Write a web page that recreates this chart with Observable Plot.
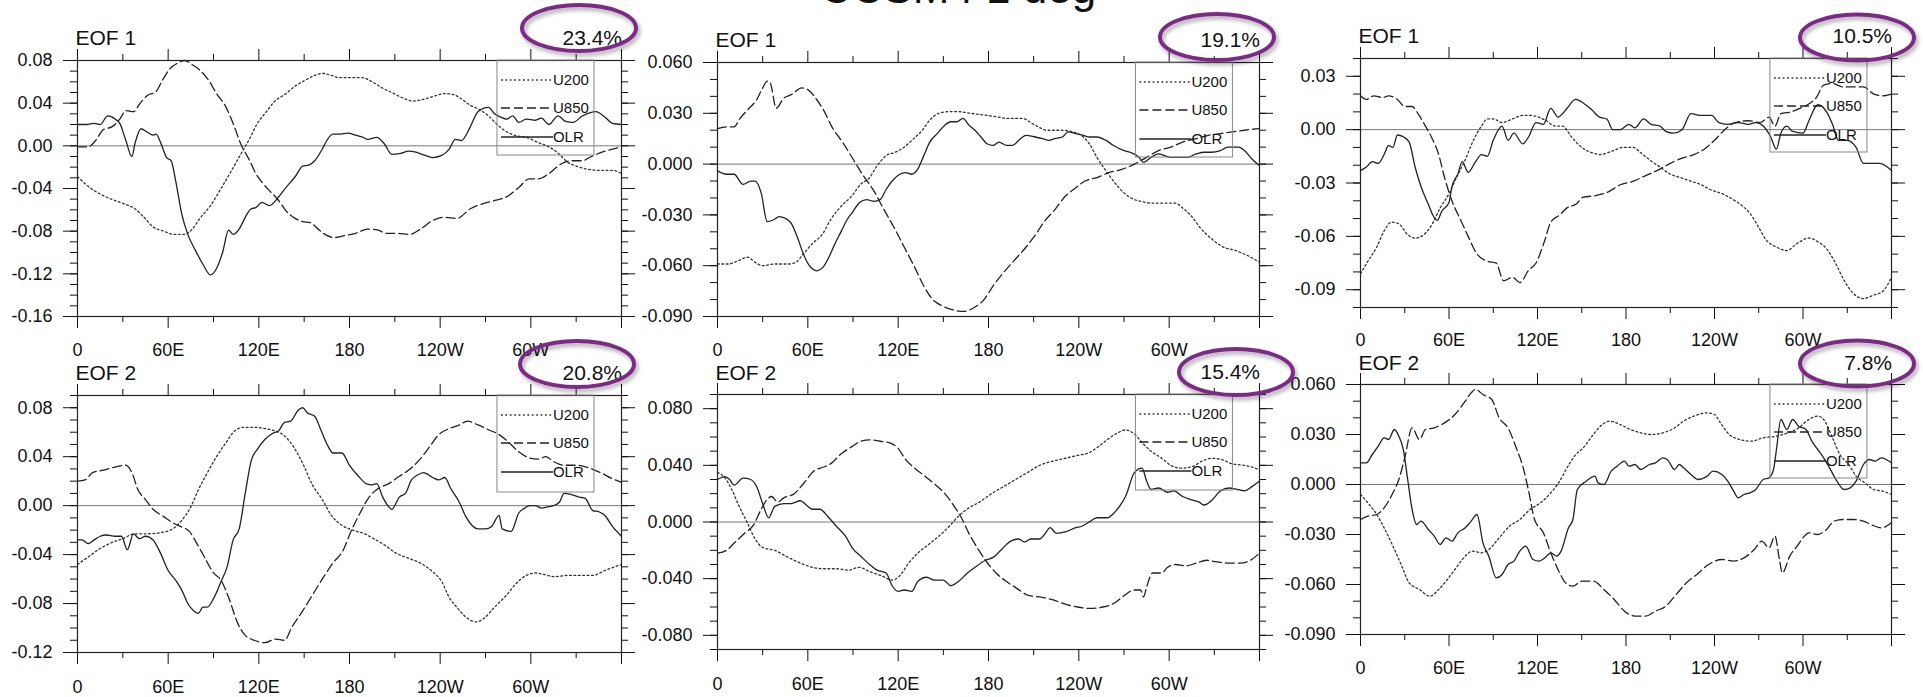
<!DOCTYPE html>
<html><head><meta charset="utf-8">
<script src="https://cdn.jsdelivr.net/npm/d3@7"></script>
<script src="https://cdn.jsdelivr.net/npm/@observablehq/plot@0.6"></script>
<style>
html,body{margin:0;padding:0;background:#fff;}
#wrap{position:relative;width:1923px;height:697px;overflow:hidden;font-family:"Liberation Sans",Arial,Helvetica,sans-serif;}
#wrap svg{position:absolute;left:0;top:0;}
</style></head><body><div id="wrap"></div>
<script>
// ---------------- DATA ----------------
const title = "CCSM4 1 deg";
const seriesNames = ["U200", "U850", "OLR"];
const eofLabels = ["EOF 1", "EOF 1", "EOF 1", "EOF 2", "EOF 2", "EOF 2"];
const pctLabels = ["23.4%", "19.1%", "10.5%", "20.8%", "15.4%", "7.8%"];
const lonMajor = [0, 60, 120, 180, 240, 300, 360];
const lonMinor = [30, 90, 150, 210, 270, 330];
const lonLabels = ["0", "60E", "120E", "180", "120W", "60W", ""];

const yDomains = [[-0.16, 0.08], [-0.09, 0.06], [-0.10, 0.04], [-0.12, 0.09], [-0.09, 0.09], [-0.09, 0.06]];
const yMajorTicks = [
  [-0.16, -0.12, -0.08, -0.04, 0, 0.04, 0.08],
  [-0.09, -0.06, -0.03, 0, 0.03, 0.06],
  [-0.09, -0.06, -0.03, 0, 0.03],
  [-0.12, -0.08, -0.04, 0, 0.04, 0.08],
  [-0.08, -0.04, 0, 0.04, 0.08],
  [-0.09, -0.06, -0.03, 0, 0.03, 0.06]
];
const yDecimals = [2, 3, 2, 2, 3, 3];

// Panel 1 (top-left)
const p1_u200 = [[0,-0.029],[9,-0.040],[19,-0.048],[30,-0.054],[38,-0.059],[44,-0.067],[50,-0.076],[57,-0.080],[64,-0.083],[71,-0.083],[76,-0.078],[81,-0.068],[88,-0.056],[95,-0.040],[102,-0.023],[108,-0.008],[114,0.007],[119,0.021],[125,0.032],[130,0.041],[138,0.049],[144,0.056],[150,0.061],[157,0.066],[162,0.068],[168,0.066],[173,0.064],[181,0.064],[188,0.064],[195,0.060],[202,0.054],[208,0.050],[215,0.045],[222,0.042],[230,0.044],[237,0.047],[243,0.049],[249,0.048],[254,0.044],[260,0.038],[266,0.034],[272,0.028],[277,0.021],[283,0.014],[289,0.010],[297,0.008],[305,0.003],[312,-0.001],[319,-0.008],[324,-0.015],[330,-0.019],[338,-0.022],[346,-0.023],[354,-0.023],[360,-0.026]];
const p1_u850 = [[0,-0.001],[7,-0.001],[12,0.005],[17,0.015],[23,0.018],[28,0.025],[32,0.033],[37,0.032],[41,0.039],[46,0.047],[52,0.051],[56,0.061],[61,0.072],[67,0.078],[71,0.080],[76,0.076],[81,0.071],[87,0.061],[92,0.049],[98,0.037],[103,0.021],[108,0.002],[114,-0.014],[118,-0.026],[122,-0.034],[127,-0.042],[133,-0.051],[138,-0.061],[144,-0.068],[149,-0.071],[154,-0.072],[160,-0.079],[165,-0.084],[170,-0.086],[177,-0.084],[184,-0.082],[192,-0.078],[199,-0.079],[204,-0.082],[212,-0.082],[220,-0.083],[227,-0.078],[235,-0.070],[243,-0.067],[251,-0.068],[260,-0.059],[269,-0.054],[277,-0.051],[285,-0.047],[292,-0.039],[299,-0.031],[305,-0.031],[312,-0.026],[320,-0.017],[327,-0.014],[334,-0.014],[340,-0.010],[347,-0.006],[354,-0.003],[360,-0.001]];
const p1_olr = [[0,0.020],[6,0.020],[11,0.021],[15,0.020],[20,0.028],[25,0.025],[28,0.021],[32,0.005],[36,-0.010],[38,0.002],[42,0.016],[46,0.013],[50,0.010],[52,0.011],[55,0.003],[59,-0.011],[62,-0.014],[65,-0.033],[69,-0.064],[73,-0.083],[78,-0.098],[83,-0.111],[88,-0.121],[92,-0.115],[96,-0.100],[100,-0.079],[103,-0.083],[107,-0.078],[111,-0.067],[115,-0.059],[118,-0.058],[122,-0.053],[127,-0.056],[133,-0.048],[138,-0.039],[144,-0.029],[149,-0.019],[153,-0.018],[157,-0.014],[162,-0.003],[165,0.005],[169,0.011],[173,0.011],[179,0.012],[184,0.010],[189,0.008],[192,0.006],[198,0.008],[203,0.002],[208,-0.008],[214,-0.007],[219,-0.005],[224,-0.006],[230,-0.009],[235,-0.011],[241,-0.009],[246,-0.003],[250,0.006],[254,0.005],[260,0.018],[265,0.032],[272,0.036],[276,0.030],[280,0.027],[284,0.025],[288,0.028],[292,0.022],[297,0.025],[303,0.024],[307,0.026],[312,0.020],[318,0.028],[323,0.023],[328,0.022],[334,0.028],[339,0.031],[343,0.032],[349,0.027],[354,0.021],[360,0.020]];

// Panel 2 (top-middle)
const p2_u200 = [[0,-0.059],[7,-0.059],[14,-0.057],[20,-0.055],[25,-0.058],[30,-0.060],[38,-0.059],[47,-0.059],[52,-0.058],[57,-0.053],[63,-0.047],[70,-0.041],[75,-0.033],[82,-0.025],[89,-0.019],[95,-0.012],[101,-0.008],[106,-0.001],[112,0.005],[118,0.007],[124,0.010],[129,0.014],[136,0.020],[141,0.026],[147,0.030],[154,0.031],[160,0.031],[168,0.030],[177,0.029],[185,0.028],[193,0.027],[202,0.027],[211,0.023],[219,0.020],[228,0.020],[236,0.019],[243,0.016],[247,0.012],[252,0.004],[258,-0.004],[263,-0.010],[270,-0.017],[277,-0.021],[281,-0.022],[288,-0.023],[296,-0.023],[304,-0.023],[309,-0.026],[315,-0.031],[321,-0.038],[328,-0.044],[336,-0.049],[344,-0.051],[352,-0.054],[360,-0.058]];
const p2_u850 = [[0,0.021],[6,0.022],[11,0.022],[15,0.027],[21,0.033],[26,0.038],[30,0.045],[33,0.049],[35,0.048],[39,0.033],[44,0.039],[49,0.041],[56,0.045],[60,0.044],[66,0.038],[71,0.031],[76,0.022],[83,0.013],[90,0.003],[97,-0.007],[104,-0.016],[110,-0.026],[117,-0.037],[124,-0.049],[131,-0.061],[137,-0.072],[143,-0.080],[150,-0.084],[156,-0.086],[163,-0.087],[170,-0.085],[177,-0.080],[183,-0.072],[190,-0.064],[197,-0.057],[204,-0.050],[211,-0.042],[217,-0.034],[224,-0.027],[231,-0.019],[238,-0.014],[244,-0.010],[252,-0.008],[260,-0.005],[269,-0.003],[277,0.000],[285,0.004],[293,0.008],[301,0.010],[309,0.013],[318,0.015],[326,0.017],[334,0.018],[342,0.019],[350,0.020],[360,0.021]];
const p2_olr = [[0,-0.004],[6,-0.006],[11,-0.006],[17,-0.012],[22,-0.010],[25,-0.010],[29,-0.017],[33,-0.034],[37,-0.033],[41,-0.031],[45,-0.032],[49,-0.035],[53,-0.043],[57,-0.053],[61,-0.060],[66,-0.063],[70,-0.061],[74,-0.055],[78,-0.047],[82,-0.040],[86,-0.033],[90,-0.028],[94,-0.023],[99,-0.021],[104,-0.022],[108,-0.021],[112,-0.015],[116,-0.010],[121,-0.006],[125,-0.005],[129,-0.006],[133,-0.003],[137,0.005],[141,0.013],[146,0.018],[151,0.023],[155,0.025],[159,0.025],[163,0.027],[167,0.023],[171,0.020],[175,0.016],[179,0.012],[183,0.011],[187,0.013],[192,0.011],[196,0.011],[200,0.014],[205,0.017],[211,0.016],[216,0.015],[220,0.014],[224,0.015],[229,0.016],[233,0.019],[238,0.018],[243,0.017],[247,0.016],[252,0.016],[258,0.014],[263,0.011],[270,0.008],[274,0.007],[280,0.004],[283,0.001],[288,0.004],[293,0.006],[297,0.005],[301,0.004],[307,0.004],[312,0.004],[318,0.006],[323,0.007],[328,0.007],[334,0.008],[339,0.010],[346,0.010],[350,0.008],[355,0.003],[360,-0.001]];

// Panel 3 (top-right)
const p3_u200 = [[0,-0.081],[5,-0.074],[11,-0.066],[16,-0.057],[21,-0.052],[26,-0.053],[32,-0.059],[37,-0.061],[43,-0.059],[48,-0.054],[54,-0.044],[60,-0.036],[65,-0.027],[71,-0.017],[76,-0.007],[82,0.002],[86,0.006],[90,0.006],[96,0.004],[103,0.006],[110,0.008],[115,0.008],[121,0.007],[126,0.005],[132,0.002],[137,0.002],[143,-0.004],[150,-0.010],[157,-0.013],[162,-0.014],[171,-0.012],[178,-0.010],[185,-0.010],[190,-0.013],[196,-0.017],[203,-0.021],[210,-0.025],[217,-0.027],[224,-0.029],[231,-0.031],[238,-0.034],[245,-0.036],[252,-0.039],[259,-0.043],[264,-0.047],[270,-0.055],[275,-0.062],[282,-0.066],[289,-0.068],[296,-0.064],[304,-0.061],[310,-0.063],[316,-0.067],[322,-0.075],[328,-0.085],[334,-0.092],[341,-0.095],[348,-0.093],[354,-0.091],[360,-0.083]];
const p3_u850 = [[0,0.019],[4,0.017],[9,0.019],[15,0.018],[19,0.019],[25,0.017],[30,0.013],[35,0.013],[39,0.009],[44,0.002],[48,-0.004],[53,-0.014],[57,-0.027],[62,-0.040],[68,-0.051],[73,-0.060],[79,-0.070],[86,-0.074],[92,-0.075],[97,-0.085],[103,-0.083],[108,-0.086],[114,-0.079],[119,-0.075],[125,-0.062],[129,-0.052],[135,-0.048],[140,-0.044],[146,-0.042],[151,-0.038],[160,-0.037],[168,-0.035],[176,-0.031],[185,-0.029],[193,-0.026],[201,-0.023],[210,-0.019],[218,-0.016],[226,-0.014],[233,-0.011],[240,-0.006],[247,0.000],[254,0.004],[263,0.005],[271,0.004],[277,0.007],[281,0.002],[285,0.009],[292,0.010],[298,0.012],[303,0.014],[309,0.018],[314,0.025],[320,0.026],[327,0.024],[334,0.024],[341,0.024],[348,0.020],[354,0.019],[360,0.020]];
const p3_olr = [[0,-0.023],[4,-0.021],[8,-0.018],[12,-0.019],[16,-0.014],[19,-0.009],[22,-0.010],[25,-0.003],[29,-0.004],[33,-0.007],[37,-0.021],[41,-0.032],[46,-0.042],[49,-0.048],[52,-0.051],[55,-0.046],[60,-0.041],[62,-0.032],[66,-0.025],[69,-0.018],[73,-0.024],[78,-0.018],[82,-0.014],[86,-0.015],[90,-0.006],[96,0.002],[100,-0.006],[104,-0.002],[110,-0.008],[114,-0.004],[119,0.004],[124,0.003],[129,0.012],[134,0.007],[137,0.009],[140,0.012],[146,0.017],[151,0.015],[157,0.011],[162,0.007],[167,0.006],[171,0.000],[176,0.000],[182,0.003],[186,0.001],[192,0.006],[197,0.003],[203,0.002],[207,-0.001],[212,-0.002],[218,0.000],[224,0.009],[231,0.008],[238,0.008],[243,0.004],[249,0.003],[256,0.004],[263,0.003],[268,0.004],[273,0.002],[278,-0.004],[282,-0.011],[285,-0.002],[289,0.002],[293,-0.001],[300,-0.002],[304,0.005],[310,0.014],[316,0.010],[320,0.003],[324,-0.006],[330,-0.006],[336,-0.010],[341,-0.019],[347,-0.019],[352,-0.019],[360,-0.023]];

// Panel 4 (bottom-left)
const p4_u200 = [[0,-0.048],[7,-0.042],[15,-0.035],[23,-0.030],[30,-0.027],[38,-0.023],[46,-0.023],[55,-0.022],[63,-0.019],[69,-0.012],[75,-0.001],[80,0.013],[86,0.027],[92,0.040],[98,0.051],[104,0.061],[110,0.064],[117,0.064],[124,0.063],[131,0.061],[137,0.057],[143,0.048],[150,0.032],[155,0.018],[162,0.005],[168,-0.008],[175,-0.016],[182,-0.020],[190,-0.023],[196,-0.027],[203,-0.032],[211,-0.039],[219,-0.043],[227,-0.047],[235,-0.054],[241,-0.062],[246,-0.075],[251,-0.083],[257,-0.091],[264,-0.095],[269,-0.092],[276,-0.083],[284,-0.073],[290,-0.064],[297,-0.057],[303,-0.055],[308,-0.056],[316,-0.058],[324,-0.057],[332,-0.057],[341,-0.057],[349,-0.053],[360,-0.048]];
const p4_u850 = [[0,0.020],[5,0.021],[10,0.027],[17,0.029],[23,0.031],[32,0.033],[36,0.027],[40,0.013],[45,0.005],[50,-0.003],[57,-0.009],[63,-0.014],[68,-0.017],[74,-0.021],[79,-0.031],[84,-0.042],[90,-0.055],[95,-0.061],[100,-0.075],[106,-0.096],[111,-0.106],[117,-0.110],[124,-0.112],[131,-0.109],[137,-0.110],[142,-0.099],[149,-0.086],[156,-0.072],[163,-0.058],[169,-0.047],[176,-0.036],[181,-0.021],[187,-0.006],[193,0.007],[199,0.014],[206,0.018],[213,0.024],[219,0.029],[226,0.037],[233,0.048],[239,0.058],[246,0.063],[253,0.066],[258,0.069],[265,0.066],[272,0.062],[279,0.058],[286,0.051],[292,0.044],[299,0.039],[305,0.038],[310,0.040],[315,0.036],[322,0.033],[330,0.033],[338,0.031],[346,0.027],[354,0.022],[360,0.019]];
const p4_olr = [[0,-0.028],[3,-0.028],[7,-0.031],[11,-0.028],[15,-0.025],[19,-0.024],[25,-0.025],[29,-0.025],[33,-0.036],[37,-0.023],[41,-0.027],[45,-0.025],[50,-0.028],[55,-0.039],[60,-0.053],[65,-0.061],[69,-0.069],[73,-0.080],[77,-0.086],[80,-0.088],[83,-0.083],[86,-0.083],[90,-0.076],[95,-0.062],[99,-0.050],[103,-0.028],[107,-0.019],[111,0.010],[115,0.037],[119,0.046],[124,0.054],[129,0.059],[133,0.061],[137,0.068],[141,0.069],[146,0.078],[149,0.080],[152,0.076],[157,0.073],[161,0.062],[166,0.048],[169,0.043],[175,0.043],[180,0.033],[186,0.024],[191,0.018],[195,0.017],[198,0.018],[202,0.007],[206,-0.001],[208,-0.003],[213,0.007],[217,0.010],[221,0.021],[225,0.025],[229,0.027],[235,0.023],[239,0.021],[243,0.023],[247,0.014],[253,0.002],[257,-0.009],[261,-0.016],[265,-0.019],[270,-0.019],[274,-0.017],[279,-0.008],[281,-0.019],[287,-0.021],[292,-0.006],[296,-0.002],[299,0.000],[303,0.000],[307,-0.002],[311,-0.001],[315,0.000],[319,0.003],[322,0.010],[327,0.009],[332,0.007],[336,0.006],[341,-0.004],[345,-0.005],[349,-0.008],[354,-0.017],[360,-0.025]];

// Panel 5 (bottom-middle)
const p5_u200 = [[0,0.035],[5,0.031],[9,0.024],[14,0.012],[20,-0.001],[25,-0.012],[30,-0.018],[38,-0.020],[47,-0.025],[55,-0.029],[63,-0.032],[71,-0.033],[79,-0.033],[87,-0.034],[94,-0.032],[101,-0.035],[109,-0.038],[116,-0.041],[121,-0.038],[127,-0.029],[133,-0.022],[140,-0.016],[147,-0.010],[154,-0.003],[160,0.004],[167,0.010],[174,0.014],[182,0.020],[190,0.025],[198,0.030],[206,0.035],[214,0.040],[223,0.043],[231,0.045],[239,0.047],[247,0.049],[254,0.054],[260,0.059],[266,0.063],[271,0.065],[277,0.062],[282,0.056],[288,0.050],[295,0.045],[301,0.040],[308,0.038],[315,0.039],[322,0.043],[328,0.045],[335,0.044],[342,0.041],[350,0.040],[360,0.037]];
const p5_u850 = [[0,-0.022],[6,-0.020],[11,-0.015],[18,-0.008],[24,-0.002],[29,0.009],[33,0.016],[36,0.018],[40,0.014],[44,0.017],[51,0.020],[57,0.027],[64,0.036],[71,0.039],[75,0.041],[82,0.048],[89,0.053],[95,0.057],[101,0.058],[108,0.057],[114,0.056],[120,0.052],[125,0.044],[131,0.038],[137,0.033],[144,0.027],[151,0.020],[156,0.013],[162,0.003],[167,-0.008],[173,-0.019],[178,-0.027],[185,-0.036],[192,-0.042],[199,-0.047],[207,-0.052],[215,-0.053],[223,-0.055],[231,-0.058],[239,-0.060],[247,-0.061],[256,-0.060],[264,-0.057],[270,-0.052],[277,-0.048],[281,-0.048],[283,-0.053],[285,-0.046],[289,-0.036],[295,-0.036],[299,-0.032],[304,-0.030],[311,-0.031],[318,-0.029],[325,-0.027],[331,-0.028],[339,-0.029],[347,-0.029],[354,-0.027],[360,-0.022]];
const p5_olr = [[0,0.030],[5,0.032],[8,0.030],[11,0.026],[17,0.031],[22,0.030],[26,0.025],[30,0.013],[34,0.003],[38,0.011],[44,0.013],[49,0.013],[55,0.015],[59,0.012],[63,0.009],[68,0.009],[74,0.003],[79,-0.003],[85,-0.010],[90,-0.019],[95,-0.024],[101,-0.030],[106,-0.034],[112,-0.036],[116,-0.045],[120,-0.049],[124,-0.048],[129,-0.049],[133,-0.042],[139,-0.039],[144,-0.041],[150,-0.041],[155,-0.045],[160,-0.042],[166,-0.036],[171,-0.032],[178,-0.027],[183,-0.025],[189,-0.019],[194,-0.014],[200,-0.012],[204,-0.014],[208,-0.012],[214,-0.012],[217,-0.009],[221,-0.004],[225,-0.008],[231,-0.007],[238,-0.004],[242,-0.003],[247,0.000],[252,0.003],[259,0.003],[263,0.006],[267,0.011],[271,0.018],[277,0.035],[282,0.038],[285,0.029],[288,0.023],[293,0.024],[299,0.021],[303,0.022],[309,0.018],[314,0.016],[320,0.014],[323,0.012],[329,0.016],[334,0.022],[340,0.024],[345,0.023],[350,0.022],[355,0.025],[360,0.029]];

// Panel 6 (bottom-right)
const p6_u200 = [[0,-0.006],[5,-0.011],[11,-0.018],[16,-0.026],[22,-0.037],[28,-0.049],[33,-0.059],[40,-0.063],[47,-0.067],[53,-0.063],[58,-0.058],[64,-0.051],[69,-0.045],[76,-0.040],[82,-0.041],[87,-0.039],[94,-0.032],[101,-0.025],[108,-0.021],[115,-0.015],[122,-0.011],[129,-0.005],[135,0.002],[140,0.010],[146,0.018],[151,0.022],[157,0.029],[164,0.036],[169,0.038],[176,0.036],[183,0.033],[190,0.031],[197,0.030],[205,0.031],[213,0.034],[219,0.038],[226,0.041],[235,0.043],[240,0.042],[244,0.037],[250,0.030],[257,0.027],[265,0.026],[273,0.028],[282,0.029],[290,0.031],[297,0.034],[304,0.039],[310,0.041],[314,0.039],[320,0.028],[325,0.018],[331,0.012],[336,0.005],[342,0.001],[348,-0.003],[354,-0.004],[360,-0.006]];
const p6_u850 = [[0,-0.021],[5,-0.019],[11,-0.018],[16,-0.014],[22,-0.005],[26,0.003],[30,0.016],[35,0.034],[40,0.027],[44,0.033],[50,0.034],[57,0.037],[64,0.042],[71,0.050],[75,0.055],[78,0.057],[83,0.054],[89,0.051],[94,0.040],[100,0.034],[106,0.021],[110,0.011],[114,-0.004],[118,-0.021],[124,-0.029],[129,-0.041],[135,-0.053],[139,-0.059],[144,-0.061],[150,-0.058],[158,-0.058],[165,-0.063],[172,-0.069],[179,-0.076],[186,-0.079],[193,-0.079],[200,-0.076],[207,-0.073],[214,-0.066],[221,-0.059],[228,-0.054],[236,-0.048],[245,-0.045],[253,-0.046],[260,-0.044],[267,-0.039],[272,-0.034],[277,-0.038],[281,-0.031],[284,-0.045],[286,-0.053],[291,-0.043],[296,-0.037],[300,-0.032],[304,-0.029],[310,-0.030],[316,-0.027],[321,-0.022],[327,-0.021],[334,-0.021],[341,-0.022],[346,-0.024],[353,-0.026],[360,-0.023]];
const p6_olr = [[0,0.013],[4,0.013],[8,0.018],[12,0.023],[16,0.028],[19,0.027],[23,0.033],[26,0.029],[29,0.021],[32,0.003],[35,-0.015],[38,-0.024],[41,-0.022],[46,-0.027],[50,-0.031],[54,-0.036],[58,-0.032],[62,-0.034],[66,-0.029],[71,-0.026],[75,-0.022],[79,-0.018],[83,-0.035],[87,-0.043],[92,-0.056],[96,-0.054],[100,-0.048],[104,-0.046],[108,-0.040],[112,-0.037],[117,-0.045],[121,-0.046],[125,-0.044],[129,-0.041],[133,-0.043],[136,-0.040],[141,-0.026],[144,-0.021],[147,-0.003],[153,0.002],[159,0.005],[161,0.001],[165,0.000],[170,0.008],[174,0.011],[179,0.014],[182,0.011],[186,0.012],[190,0.009],[196,0.012],[200,0.013],[205,0.016],[208,0.015],[213,0.009],[216,0.012],[219,0.010],[224,0.006],[229,0.003],[235,0.005],[239,0.008],[245,0.006],[249,0.002],[253,-0.004],[256,-0.008],[260,-0.006],[264,-0.005],[268,-0.003],[273,0.003],[277,0.004],[280,0.009],[282,0.021],[285,0.039],[289,0.033],[293,0.039],[297,0.035],[302,0.033],[306,0.026],[310,0.021],[314,0.016],[318,0.010],[323,0.002],[328,-0.003],[332,-0.002],[336,0.002],[341,0.012],[345,0.015],[349,0.014],[353,0.016],[360,0.013]];

const panelSeries = [
  [p1_u200, p1_u850, p1_olr],
  [p2_u200, p2_u850, p2_olr],
  [p3_u200, p3_u850, p3_olr],
  [p4_u200, p4_u850, p4_olr],
  [p5_u200, p5_u850, p5_olr],
  [p6_u200, p6_u850, p6_olr]
];

// ---------------- LAYOUT (pixels) ----------------
const W = 1923, H = 697;
const layout = [
  {l: 77, r: 621, t: 60, b: 316, eofY: 45, pctY: 45, ell: [579, 28], legB: 155, xpad: 15},
  {l: 717, r: 1259, t: 62, b: 316, eofY: 46.5, pctY: 46.5, ell: [1217, 37], legB: 157, xpad: 15},
  {l: 1360, r: 1891, t: 58, b: 307, eofY: 43, pctY: 43, ell: [1857, 37.5], legB: 152, xpad: 14},
  {l: 77, r: 621, t: 395, b: 652, eofY: 380, pctY: 380, ell: [577, 364], legB: 492, xpad: 16},
  {l: 717, r: 1259, t: 394, b: 649, eofY: 380, pctY: 379, ell: [1236, 372], legB: 490, xpad: 16},
  {l: 1360, r: 1891, t: 384, b: 634, eofY: 370, pctY: 370, ell: [1857, 363.5], legB: 478, xpad: 15}
];
const FONT = '"Liberation Sans", Arial, Helvetica, sans-serif';
const styles = [
  {dash: "1.8,2.6", width: 1.3, color: "#333"},
  {dash: "9,4", width: 1.3, color: "#222"},
  {dash: null, width: 1.3, color: "#222"}
];

const wrap = document.getElementById("wrap");
const lonFmt = d => lonLabels[lonMajor.indexOf(d)] ?? "";
const blank = () => "";
function minorTicks(dom) {
  const out = [];
  for (let k = Math.round(dom[0] * 100); k <= Math.round(dom[1] * 100); k++) out.push(k / 100);
  return out;
}

layout.forEach((g, i) => {
  const dec = yDecimals[i];
  const fmt = v => d3.format("." + dec + "f")(Math.abs(v) < 1e-9 ? 0 : v).replace("\u2212", "-");
  const yMinor = minorTicks(yDomains[i]);
  const lineMarks = panelSeries[i].map((arr, s) =>
    Plot.line(arr.map(([lon, v]) => ({lon, v})), {
      x: "lon", y: "v", stroke: styles[s].color, strokeWidth: styles[s].width,
      strokeDasharray: styles[s].dash, curve: "monotone-x"
    })
  );
  const chart = Plot.plot({
    width: W, height: H,
    marginLeft: g.l, marginRight: W - g.r, marginTop: g.t, marginBottom: H - g.b,
    x: {domain: [0, 360], label: null},
    y: {domain: yDomains[i], label: null},
    style: {background: "transparent", fontFamily: FONT, fontSize: "18px", color: "#111", overflow: "visible"},
    marks: [
      Plot.ruleY([0], {stroke: "#777", strokeWidth: 1}),
      ...lineMarks,
      Plot.axisY({anchor: "left", ticks: yMajorTicks[i], tickSize: 14, tickPadding: 11, tickFormat: fmt, label: null, fontSize: 18}),
      Plot.axisY({anchor: "left", ticks: yMinor, tickSize: 7, tickFormat: blank, label: null}),
      Plot.axisY({anchor: "right", ticks: yMajorTicks[i], tickSize: 13, tickFormat: blank, label: null}),
      Plot.axisY({anchor: "right", ticks: yMinor, tickSize: 6, tickFormat: blank, label: null}),
      Plot.axisX({anchor: "bottom", ticks: lonMajor, tickSize: 12, tickPadding: g.xpad, tickFormat: lonFmt, label: null, fontSize: 18}),
      Plot.axisX({anchor: "bottom", ticks: lonMinor, tickSize: 6, tickFormat: blank, label: null}),
      Plot.axisX({anchor: "top", ticks: lonMajor, tickSize: 12, tickFormat: blank, label: null}),
      Plot.axisX({anchor: "top", ticks: lonMinor, tickSize: 7, tickFormat: blank, label: null}),
      Plot.frame({stroke: "#222", strokeWidth: 1.2})
    ]
  });
  wrap.appendChild(chart);
});

// ---------------- OVERLAY: titles, legends, ellipses ----------------
const svg = d3.select(wrap).append("svg").attr("width", W).attr("height", H)
  .style("font-family", FONT);
const defs = svg.append("defs");
const f = defs.append("filter").attr("id", "sh").attr("x", "-20%").attr("y", "-30%").attr("width", "140%").attr("height", "160%");
f.append("feDropShadow").attr("dx", 2).attr("dy", 3).attr("stdDeviation", 2).attr("flood-color", "#000").attr("flood-opacity", 0.35);

svg.append("text").attr("x", 958).attr("y", 3).attr("text-anchor", "middle")
  .attr("font-size", 44).attr("fill", "#111").text(title);

layout.forEach((g, i) => {
  svg.append("text").attr("x", g.l - 1.5).attr("y", g.eofY).attr("font-size", 21).attr("fill", "#111").text(eofLabels[i]);
  svg.append("text").attr("x", g.r + 1).attr("y", g.pctY).attr("text-anchor", "end").attr("font-size", 21).attr("fill", "#111").text(pctLabels[i]);
  // legend
  const lw = g.r - g.l;
  const lx = g.l + 0.772 * lw, rx = lx + 97;
  svg.append("rect").attr("x", lx).attr("y", g.t).attr("width", rx - lx).attr("height", g.legB - g.t)
    .attr("fill", "none").attr("stroke", "#888").attr("stroke-width", 1);
  const offs = [20, 48, 77];
  seriesNames.forEach((nm, s) => {
    const yy = g.t + offs[s];
    svg.append("line").attr("x1", lx + 4).attr("x2", lx + 56).attr("y1", yy).attr("y2", yy)
      .attr("stroke", styles[s].color).attr("stroke-width", 1.3).attr("stroke-dasharray", styles[s].dash);
    svg.append("text").attr("x", lx + 56).attr("y", yy).attr("dy", "0.36em").attr("font-size", 15).attr("fill", "#111").text(nm);
  });
  // ellipse
  svg.append("ellipse").attr("cx", g.ell[0]).attr("cy", g.ell[1]).attr("rx", 57).attr("ry", 23)
    .attr("fill", "none").attr("stroke", "#7B2C86").attr("stroke-width", 4).attr("filter", "url(#sh)");
});
</script></body></html>
